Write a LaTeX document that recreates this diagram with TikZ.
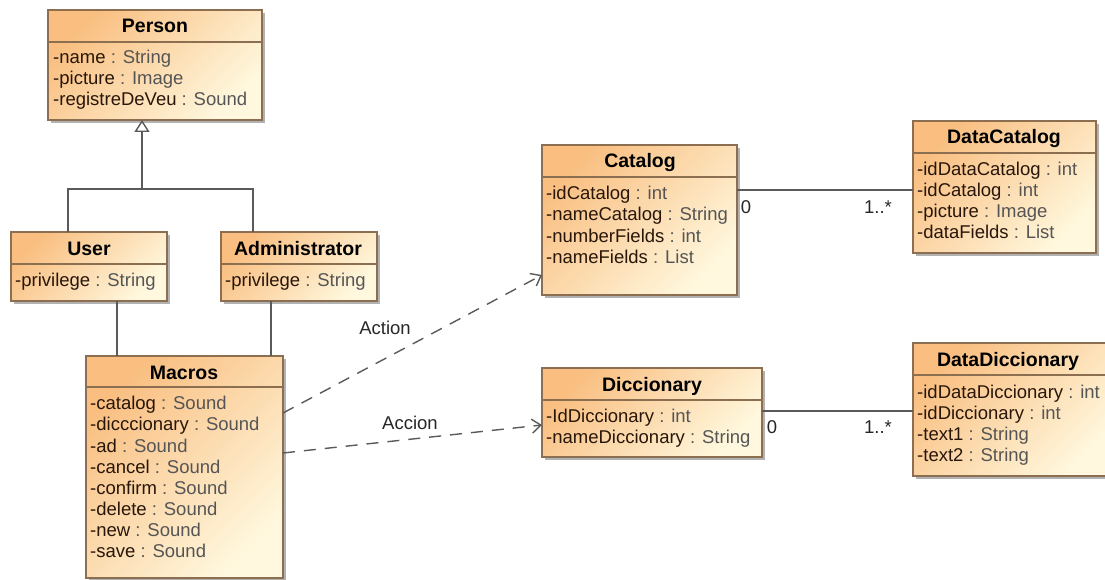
\documentclass[tikz,border=0pt]{standalone}
\usepackage{fontspec}
\setmainfont{Liberation Sans}
\usetikzlibrary{arrows.meta,shadows}
\definecolor{boxtop}{RGB}{249,190,128}
\definecolor{boxbot}{RGB}{255,248,222}
\definecolor{boxline}{RGB}{140,110,80}
\definecolor{namec}{RGB}{40,22,10}
\definecolor{typec}{RGB}{85,85,85}
\definecolor{linec}{RGB}{90,90,90}
\newcommand\uattr[2]{\textcolor{namec}{-#1}\textcolor{typec}{\ : #2}}
\tikzset{
  classbox/.style={draw=boxline, line width=1.2pt, top color=boxtop, bottom color=boxbot,
    shading angle=45, anchor=north west, inner sep=0pt, outer sep=0pt,
    drop shadow={shadow xshift=3pt, shadow yshift=-3pt, fill=black, opacity=0.3}},
  sepline/.style={draw=boxline, line width=1.1pt},
  hdr/.style={font=\fontsize{19.5}{22}\selectfont\bfseries, text=black, inner sep=0pt, text height=14pt, text depth=0pt},
  attr/.style={font=\fontsize{18.5}{21}\selectfont, anchor=west, inner sep=0pt, text height=13.4pt, text depth=0pt},
  lbl/.style={font=\fontsize{18.5}{21}\selectfont, text=black!85, inner sep=0pt, text height=13.4pt, text depth=0pt},
  conn/.style={draw=linec, line width=1.4pt},
  dep/.style={draw=linec, line width=1.4pt, dash pattern=on 12pt off 9pt,
    -{Straight Barb[length=9pt, width=14pt, line width=1.4pt]}},
}
\begin{document}
\begin{tikzpicture}[x=1pt,y=-1pt]
\useasboundingbox (0,0) rectangle (1105,580);

% ---- class boxes
\node[classbox, minimum width=214pt, minimum height=110pt] (person) at (48,10) {};
\node[classbox, minimum width=156pt, minimum height=69pt] (user) at (11,232) {};
\node[classbox, minimum width=156pt, minimum height=69pt] (admin) at (221,232) {};
\node[classbox, minimum width=197pt, minimum height=222pt] (macros) at (86,356) {};
\node[classbox, minimum width=195pt, minimum height=150pt] (catalog) at (542,145) {};
\node[classbox, minimum width=183pt, minimum height=132pt] (datacatalog) at (913,121) {};
\node[classbox, minimum width=220pt, minimum height=89pt] (diccionary) at (542,368) {};
\node[classbox, minimum width=200pt, minimum height=133pt] (datadicc) at (913,343) {};

% ---- header separators
\foreach \n/\o in {person/32, user/32, admin/32, macros/31, catalog/32, datacatalog/32, diccionary/32, datadicc/32}
  \draw[sepline] ([yshift=-\o pt]\n.north west) -- ([yshift=-\o pt]\n.north east);

% ---- headers
\node[hdr] (person-h) at (155,26) {Person};
\node[hdr] (user-h) at (89,248) {User};
\node[hdr] (admin-h) at (298,248) {Administrator};
\node[hdr] (macros-h) at (184,372) {Macros};
\node[hdr] (catalog-h) at (640,161) {Catalog};
\node[hdr] (datacatalog-h) at (1004,137) {DataCatalog};
\node[hdr] (diccionary-h) at (652,384) {Diccionary};
\node[hdr] (datadicc-h) at (1008,359) {DataDiccionary};

% ---- attributes
\foreach \a/\t [count=\i from 0] in {name/String, picture/Image, registreDeVeu/Sound}
  \node[attr] (person-a\i) at (53,57+21*\i) {\uattr{\a}{\t}};
\node[attr] (user-a0) at (15,280) {\uattr{privilege}{String}};
\node[attr] (admin-a0) at (225,280) {\uattr{privilege}{String}};
\foreach \a/\t [count=\i from 0] in {catalog/Sound, dicccionary/Sound, ad/Sound, cancel/Sound, confirm/Sound, delete/Sound, new/Sound, save/Sound}
  \node[attr] (macros-a\i) at (90,403+21.15*\i) {\uattr{\a}{\t}};
\foreach \a/\t [count=\i from 0] in {idCatalog/int, nameCatalog/String, numberFields/int, nameFields/List}
  \node[attr] (catalog-a\i) at (546,193+21.2*\i) {\uattr{\a}{\t}};
\foreach \a/\t [count=\i from 0] in {idDataCatalog/int, idCatalog/int, picture/Image, dataFields/List}
  \node[attr] (datacatalog-a\i) at (917,169+21*\i) {\uattr{\a}{\t}};
\foreach \a/\t [count=\i from 0] in {IdDiccionary/int, nameDiccionary/String}
  \node[attr] (diccionary-a\i) at (546,416+21*\i) {\uattr{\a}{\t}};
\foreach \a/\t [count=\i from 0] in {idDataDiccionary/int, idDiccionary/int, text1/String, text2/String}
  \node[attr] (datadicc-a\i) at (917,391.5+21*\i) {\uattr{\a}{\t}};

% ---- generalization
\coordinate (j1) at (68,189);
\coordinate (j2) at (253,189);
\coordinate (j) at (142,189);
\draw[conn] (user.north -| j1) -- (j1) -- (j2) -- (admin.north -| j2);
\draw[conn, -{Triangle[open, length=12pt, width=15pt, line width=1.4pt]}] (j) -- (person.south -| j);

% ---- associations User/Admin - Macros
\coordinate (c1) at (117,330);
\coordinate (c2) at (271,330);
\draw[conn] (user.south -| c1) -- (macros.north -| c1);
\draw[conn] (admin.south -| c2) -- (macros.north -| c2);

% ---- dependencies
\draw[dep] ([yshift=-57pt]macros.north east) -- ([yshift=-130pt]catalog.north west);
\draw[dep] ([yshift=-97pt]macros.north east) -- ([yshift=-57pt]diccionary.north west);
\node[lbl] (l-action) at (385,328) {Action};
\node[lbl] (l-accion) at (410,423) {Accion};

% ---- associations to data classes
\draw[conn] ([yshift=-45pt]catalog.north east) coordinate (a1) -- (a1 -| datacatalog.west);
\draw[conn] ([yshift=-43pt]diccionary.north east) coordinate (a2) -- (a2 -| datadicc.west);
\node[lbl] (m1) at (746,207) {0};
\node[lbl] (m2) at (878,207) {1..*};
\node[lbl] (m3) at (772,427) {0};
\node[lbl] (m4) at (878,427) {1..*};
\end{tikzpicture}
\end{document}
